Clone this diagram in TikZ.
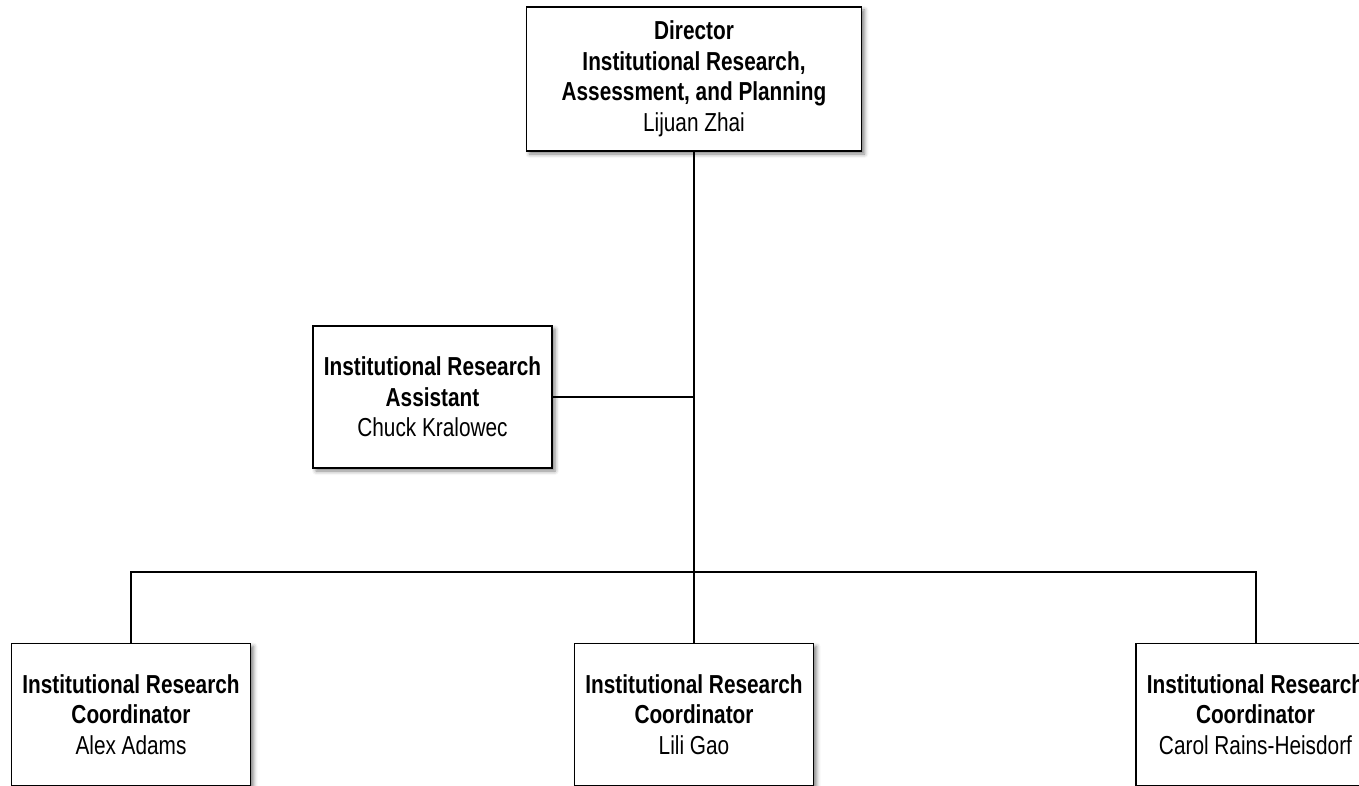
\documentclass[tikz,border=0pt]{standalone}
\usepackage{fontspec}
\setmainfont{Liberation Sans}[FakeStretch=0.80]
\usetikzlibrary{shadows.blur}
\tikzset{
  box/.style={draw=black, line width=1.3pt, fill=white,
    minimum width=239pt, minimum height=142pt, align=center, inner sep=0pt,
    font=\fontsize{26}{30.5}\selectfont,
    blur shadow={shadow xshift=3pt, shadow yshift=-3pt, shadow blur radius=4pt, shadow opacity=50}},
  conn/.style={line width=2pt}
}
\begin{document}
\begin{tikzpicture}[x=1pt,y=-1pt]
\useasboundingbox (0,0) rectangle (1359,786);
\clip (0,0) rectangle (1359,786);
\node[box, minimum width=335pt, minimum height=144pt] (dir) at (694,79)
  {\textbf{Director}\\\textbf{Institutional Research,}\\\textbf{Assessment, and Planning}\\Lijuan Zhai};
\node[box] (asst) at (432.5,397)
  {\textbf{Institutional Research}\\\textbf{Assistant}\\Chuck Kralowec};
\node[box] (c1) at (131,714.5)
  {\textbf{Institutional Research}\\\textbf{Coordinator}\\Alex Adams};
\node[box] (c2) at (694,714.5)
  {\textbf{Institutional Research}\\\textbf{Coordinator}\\Lili Gao};
\node[box] (c3) at (1255.5,714.5)
  {\textbf{Institutional Research}\\\textbf{Coordinator}\\Carol Rains-Heisdorf};
\coordinate (bus) at (694,572);
\draw[conn] (dir.south) -- (c2.north);
\draw[conn] (asst.east) -- (asst.east -| dir.south);
\draw[conn] (c1.north) |- (bus) -| (c3.north);
\end{tikzpicture}
\end{document}
